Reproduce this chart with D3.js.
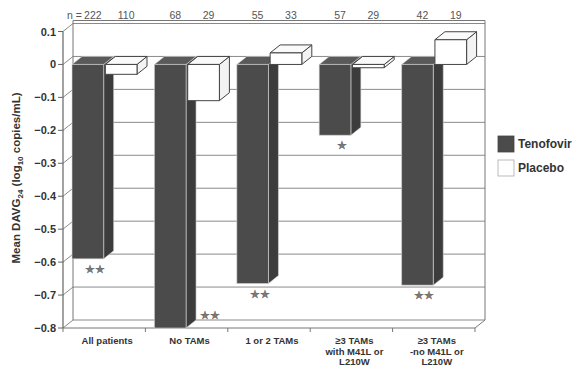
<!DOCTYPE html>
<html>
<head>
<meta charset="utf-8">
<script src="https://cdn.jsdelivr.net/npm/d3@7"></script>
<style>
  body { margin: 0; background: #fff; }
  svg { font-family: "Liberation Sans", Arial, sans-serif; }
</style>
</head>
<body>
<div id="chart-area"></div>
<script>
// data
const categories = [
    ["All patients"],
    ["No TAMs"],
    ["1 or 2 TAMs"],
    ["\u22653 TAMs", "with M41L or", "L210W"],
    ["\u22653 TAMs", "-no M41L or", "L210W"]
];
const seriesNames = ["Tenofovir", "Placebo"];
const tenofovir = [-0.59, -0.80, -0.665, -0.215, -0.67];
const placebo = [-0.03, -0.11, 0.035, -0.01, 0.075];
const nTenofovir = [222, 68, 55, 57, 42];
const nPlacebo = [110, 29, 33, 29, 19];
const stars = ["**", "**", "**", "*", "**"];
const yTicks = [0.1, 0, -0.1, -0.2, -0.3, -0.4, -0.5, -0.6, -0.7, -0.8];

// depth offset of the 3D box
const dx = 10, dy = -8;
const left = 63, right = 475;

const svg = d3.select("#chart-area").append("svg")
    .attr("width", 580)
    .attr("height", 366);

const y = d3.scaleLinear().domain([0.1, -0.8]).range([31.5, 328]);
const x0 = d3.scaleBand().domain(d3.range(categories.length)).range([left, right]);
const x1 = d3.scaleBand().domain(seriesNames).range([9, 74]).paddingInner(0.05);

const gridColor = "#8a8a8a";

// back wall grid
svg.append("g").selectAll("line")
    .data(yTicks)
    .enter().append("line")
    .attr("x1", left + dx).attr("x2", right + dx)
    .attr("y1", d => y(d) + dy).attr("y2", d => y(d) + dy)
    .attr("stroke", gridColor).attr("stroke-width", 1);

// side wall diagonals
svg.append("g").selectAll("line")
    .data(yTicks)
    .enter().append("line")
    .attr("x1", left).attr("x2", left + dx)
    .attr("y1", d => y(d)).attr("y2", d => y(d) + dy)
    .attr("stroke", gridColor).attr("stroke-width", 1);

// wall edges
svg.append("path")
    .attr("d", `M${left + dx},${y(-0.8) + dy}V${y(0.1) + dy - 3}H${right + dx}V${y(-0.8) + dy}`)
    .attr("fill", "none").attr("stroke", "#777").attr("stroke-width", 1);

// floor
svg.append("path")
    .attr("d", `M${left},${y(-0.8)}H${right}L${right + dx},${y(-0.8) + dy}`)
    .attr("fill", "none").attr("stroke", "#777").attr("stroke-width", 1);

// category ticks
svg.append("g").selectAll("line")
    .data(d3.range(categories.length + 1))
    .enter().append("line")
    .attr("x1", i => left + i * x0.bandwidth()).attr("x2", i => left + i * x0.bandwidth())
    .attr("y1", y(-0.8)).attr("y2", y(-0.8) + 4)
    .attr("stroke", "#777");

// y axis
svg.append("line")
    .attr("x1", left).attr("x2", left)
    .attr("y1", y(0.1)).attr("y2", y(-0.8))
    .attr("stroke", "#666").attr("stroke-width", 1.2);

svg.append("g").selectAll("line")
    .data(yTicks)
    .enter().append("line")
    .attr("x1", left - 5).attr("x2", left)
    .attr("y1", d => y(d)).attr("y2", d => y(d))
    .attr("stroke", "#666");

svg.append("g").selectAll("text")
    .data(yTicks)
    .enter().append("text")
    .attr("x", left - 7)
    .attr("y", d => y(d) + 4)
    .attr("text-anchor", "end")
    .style("font-size", "11px").style("font-weight", "bold").style("fill", "#333")
    .text(d => d === 0 ? "0" : d3.format(".1f")(d));

// bars, drawn left to right so later bars cover side faces
const bars = [];
categories.forEach((c, i) => {
    bars.push({i: i, s: "Tenofovir", v: tenofovir[i]});
    bars.push({i: i, s: "Placebo", v: placebo[i]});
});

const colors = {
    Tenofovir: {front: "#4b4b4b", side: "#3c3c3c", top: "#5a5a5a", stroke: "#d8d8d8", sw: 0.6},
    Placebo: {front: "#ffffff", side: "#f3f3f3", top: "#fafafa", stroke: "#444", sw: 1}
};

const barG = svg.append("g");
bars.forEach(b => {
    const xa = x0(b.i) + x1(b.s);
    const xb = xa + x1.bandwidth();
    const yt = y(Math.max(0, b.v));
    const yb = y(Math.min(0, b.v));
    const col = colors[b.s];
    const g = barG.append("g")
        .attr("stroke", col.stroke).attr("stroke-width", col.sw)
        .attr("stroke-linejoin", "round");
    // side face
    g.append("path")
        .attr("d", `M${xb},${yt}L${xb + dx},${yt + dy}L${xb + dx},${yb + dy}L${xb},${yb}Z`)
        .attr("fill", col.side);
    // top face
    g.append("path")
        .attr("d", `M${xa},${yt}L${xa + dx},${yt + dy}L${xb + dx},${yt + dy}L${xb},${yt}Z`)
        .attr("fill", col.top);
    // front face
    g.append("rect")
        .attr("x", xa).attr("y", yt)
        .attr("width", xb - xa).attr("height", Math.max(yb - yt, 0.5))
        .attr("fill", col.front);
});

// significance stars
svg.append("g").selectAll("text")
    .data(stars)
    .enter().append("text")
    .attr("x", (d, i) => {
        const sy = y(tenofovir[i]) + 14;
        return sy > y(-0.8) - 4
            ? x0(i) + x1("Placebo") + x1.bandwidth() / 2 + 6
            : x0(i) + x1("Tenofovir") + x1.bandwidth() / 2 + 7;
    })
    .attr("y", (d, i) => {
        const sy = y(tenofovir[i]) + 14;
        return sy > y(-0.8) - 4 ? y(-0.8) - 9 : sy;
    })
    .attr("text-anchor", "middle")
    .style("font-size", "11px")
    .style("fill", "#7a7a7a").style("stroke", "#555").style("stroke-width", 0.4)
    .text(d => d.replace(/\*/g, "\u2605"));

// n labels along the top
const nG = svg.append("g")
    .style("font-size", "10.5px").style("fill", "#555");
categories.forEach((c, i) => {
    [[nTenofovir[i], "Tenofovir"], [nPlacebo[i], "Placebo"]].forEach(([n, s]) => {
        nG.append("text")
            .attr("x", x0(i) + x1(s) + x1.bandwidth() / 2 + dx / 2)
            .attr("y", 19)
            .attr("text-anchor", "middle")
            .text(n);
    });
});
nG.append("text")
    .attr("x", x0(0) + x1("Tenofovir") + x1.bandwidth() / 2 + dx / 2 - 11)
    .attr("y", 19)
    .attr("text-anchor", "end")
    .text("n =");

// category labels
const catG = svg.append("g")
    .style("font-size", "9.5px").style("font-weight", "bold").style("fill", "#333");
categories.forEach((lines, i) => {
    const t = catG.append("text")
        .attr("text-anchor", "middle");
    lines.forEach((l, k) => {
        t.append("tspan")
            .attr("x", x0(i) + x0.bandwidth() / 2 + 3)
            .attr("y", 344 + k * 10.5)
            .text(l);
    });
});

// y axis title
const yt = svg.append("text")
    .attr("transform", "translate(20,178) rotate(-90)")
    .attr("text-anchor", "middle")
    .style("font-size", "11.5px").style("font-weight", "bold").style("fill", "#333");
yt.append("tspan").text("Mean DAVG");
yt.append("tspan").attr("dy", 3).style("font-size", "8px").text("24");
yt.append("tspan").attr("dy", -3).text(" (log");
yt.append("tspan").attr("dy", 3).style("font-size", "8px").text("10");
yt.append("tspan").attr("dy", -3).text(" copies/mL)");

// legend
const legend = svg.append("g").attr("transform", "translate(498,136)");
seriesNames.forEach((s, k) => {
    legend.append("rect")
        .attr("x", 0).attr("y", k * 24)
        .attr("width", 16).attr("height", 16)
        .attr("fill", colors[s].front)
        .attr("stroke", k === 0 ? "#444" : "#aaa").attr("stroke-width", 0.8);
    legend.append("text")
        .attr("x", 20).attr("y", k * 24 + 12)
        .style("font-size", "12px").style("font-weight", "bold").style("fill", "#333")
        .text(s);
});
</script>
</body>
</html>
